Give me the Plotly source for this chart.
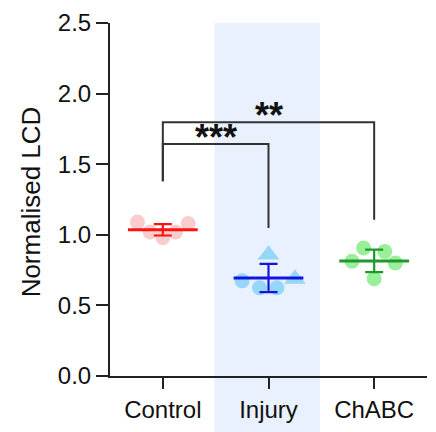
import plotly.graph_objects as go

# ---- data ----
categories = ["Control", "Injury", "ChABC"]
control_vals = [1.09, 1.02, 0.98, 1.02, 1.08]
injury_vals = [0.675, 0.625, 0.858, 0.625, 0.687]
injury_symbols = ["circle", "circle", "triangle-up", "circle", "triangle-up"]
chabc_vals = [0.813, 0.906, 0.689, 0.881, 0.800]
means = [1.035, 0.694, 0.815]
sds = [0.04, 0.10, 0.08]
y_ticks = [0.0, 0.5, 1.0, 1.5, 2.0, 2.5]
sig_labels = ["***", "**"]
sig_pairs = [(0, 1), (0, 2)]

# ---- layout / style constants ----
jitter = {
    0: [-0.24, -0.12, 0.0, 0.12, 0.24],
    1: [-0.25, -0.085, 0.0, 0.08, 0.25],
    2: [-0.21, -0.10, 0.0, 0.10, 0.20],
}
marker_colors = ["#F7B8B8", "#72CCF5", "#6FE86F"]
line_colors = ["#FF1212", "#1414E0", "#1E9A2A"]
FONT = "Liberation Sans, Arial, sans-serif"
INK = "#222222"

fig = go.Figure()

groups = [control_vals, injury_vals, chabc_vals]
symbols = [["circle"] * 5, injury_symbols, ["circle"] * 5]
for i, vals in enumerate(groups):
    sizes = [19 if s.startswith("triangle") else 15 for s in symbols[i]]
    fig.add_trace(go.Scatter(
        x=[i + o for o in jitter[i]], y=vals, mode="markers",
        marker=dict(color=marker_colors[i], size=sizes, symbol=symbols[i], line=dict(width=0)),
        showlegend=False, hoverinfo="skip"))

for i in range(3):
    fig.add_trace(go.Scatter(
        x=[i - 0.33, i + 0.33], y=[means[i], means[i]], mode="lines",
        line=dict(color=line_colors[i], width=3), showlegend=False, hoverinfo="skip"))
    fig.add_trace(go.Scatter(
        x=[i], y=[means[i]], mode="markers", marker=dict(size=1, opacity=0),
        error_y=dict(type="data", array=[sds[i]], color=line_colors[i], thickness=2.2, width=9),
        showlegend=False, hoverinfo="skip"))

# significance brackets
bracket_levels = [1.643, 1.797]
left_bottom = 1.38
right_bottoms = [1.049, 1.106]
for k, (a, b) in enumerate(sig_pairs):
    yl = bracket_levels[k]
    fig.add_trace(go.Scatter(
        x=[a, a, b, b], y=[left_bottom, yl, yl, right_bottoms[k]], mode="lines",
        line=dict(color="#333333", width=2), showlegend=False, hoverinfo="skip"))
    fig.add_annotation(x=(a + b) / 2, y=yl, text="<b>" + sig_labels[k] + "</b>", showarrow=False,
                       yanchor="bottom", yshift=-16,
                       font=dict(family=FONT, size=36, color="#111111"))

# shaded band behind the Injury group
fig.add_shape(type="rect", xref="paper", yref="paper", x0=1/3 - 0.004, x1=2/3 - 0.004,
              y0=-0.2, y1=1.0, fillcolor="#E8F1FD", line=dict(width=0), layer="below")

fig.add_annotation(x=-0.25, y=0.494, xref="paper", yref="paper", text="Normalised LCD",
                   textangle=-90, showarrow=False, xanchor="center", yanchor="middle",
                   font=dict(family=FONT, size=26, color="#111111"))

fig.update_layout(
    width=436, height=432,
    margin=dict(l=110, r=9, t=17, b=51),
    paper_bgcolor="white", plot_bgcolor="rgba(0,0,0,0)",
    font=dict(family=FONT, size=24, color="#111111"),
    xaxis=dict(range=[-0.5, 2.5], tickvals=[0, 1, 2], ticktext=categories,
               showgrid=False, zeroline=False, showline=True, linecolor=INK, linewidth=2,
               ticks="outside", ticklen=11, tickwidth=2, tickcolor=INK,
               tickfont=dict(family=FONT, size=24, color="#111111")),
    yaxis=dict(range=[0, 2.5], tickvals=y_ticks, tickformat=".1f",
               showgrid=False, zeroline=False, showline=True, linecolor=INK, linewidth=2,
               ticks="outside", ticklen=12, tickwidth=2, tickcolor=INK,
               tickfont=dict(family=FONT, size=24, color="#111111")),
)

fig.write_html("out.html")
